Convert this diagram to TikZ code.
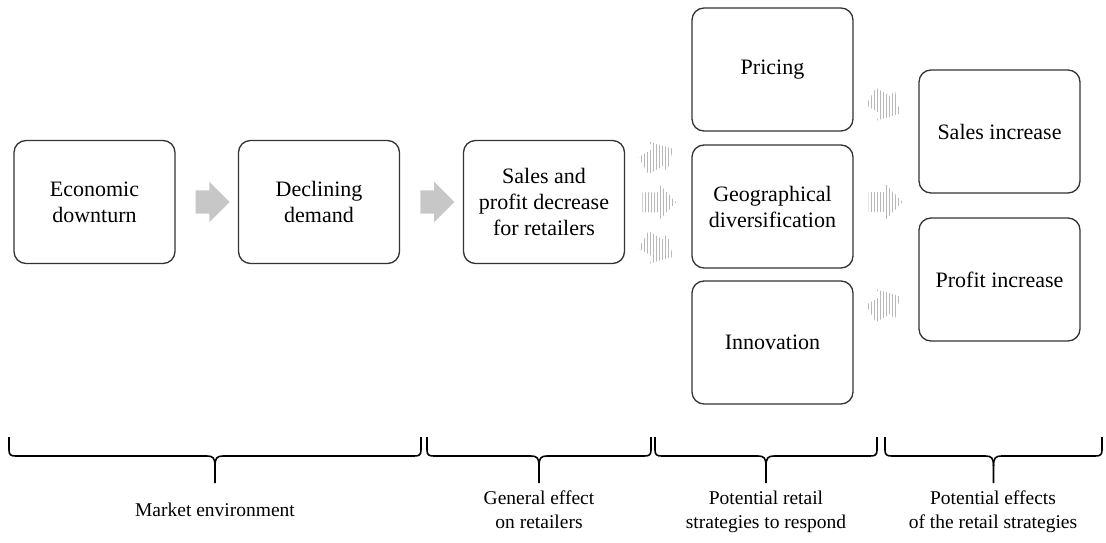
\documentclass[tikz,border=0pt]{standalone}
\usepackage{fontspec}
\setmainfont{Liberation Serif}
\usetikzlibrary{calc,shapes.arrows}
\newcommand\stripedarrow[3]{%
  \begin{scope}[shift={(#1)}]
    \clip[rotate=#2] (-17,-10) -- (0,-10) -- (0,-18) -- (17,0) -- (0,18) -- (0,10) -- (-17,10) -- cycle;
    \foreach \i in {-26,-23,...,26} \draw[#3] (\i,-30) -- (\i,30);
  \end{scope}}
\newcommand\curlybrace[2]{%
  \pgfmathsetmacro\xm{(#1+#2)/2}
  \draw[bracepen] (#1,437) -- (#1,450) .. controls (#1,455) and (#1+2,456) .. (#1+7,456) -- (\xm-8,456) .. controls (\xm-2,456) and (\xm,458) .. (\xm,466) -- (\xm,483);
  \draw[bracepen] (#2,437) -- (#2,450) .. controls (#2,455) and (#2-2,456) .. (#2-7,456) -- (\xm+8,456) .. controls (\xm+2,456) and (\xm,458) .. (\xm,466);}
\begin{document}
\begin{tikzpicture}[x=1pt,y=-1pt,
  box/.style={draw=black!80, line width=1.3pt, rounded corners=12pt,
    minimum width=161pt, minimum height=123pt, align=center, inner sep=0pt,
    font=\fontsize{22}{26}\selectfont},
  solidarrow/.style={single arrow, fill=black!22, draw=none, minimum height=34pt,
    inner xsep=0pt, inner ysep=11.5pt, single arrow head extend=8.5pt},
  stripe/.style={black!28, line width=1.4pt},
  bracepen/.style={line width=1.6pt, black},
  lab/.style={align=center, anchor=north, inner sep=0pt, font=\fontsize{19.5}{24}\selectfont}]
\useasboundingbox (0,0) rectangle (1106,543);
\node[box] (b1) at (94.5,202) {Economic\\downturn};
\node[box] (b2) at (319,202) {Declining\\demand};
\node[box] (b3) at (544,202) {Sales and\\profit decrease\\for retailers};
\node[box] (p) at (772.5,69.5) {Pricing};
\node[box] (g) at (772.5,206.5) {Geographical\\diversification};
\node[box] (i) at (772.5,342.5) {Innovation};
\node[box] (s) at (999.5,131.5) {Sales increase};
\node[box] (pr) at (999.5,279.5) {Profit increase};
\node[solidarrow] (a1) at ($(b1.east)!0.5!(b2.west)$) {};
\node[solidarrow] (a2) at ($(b2.east)!0.5!(b3.west)$) {};
\coordinate (m1) at ($(b3.east)!0.5!(g.west)$);
\coordinate (m2) at ($(g.east)+(32,-4.5)$);
\stripedarrow{$(m1)+(0,-47)$}{30}{stripe}
\stripedarrow{$(m1)+(1,-2)$}{0}{stripe}
\stripedarrow{$(m1)+(0,44)$}{-30}{stripe}
\stripedarrow{$(m2)+(0,-97)$}{-30}{stripe}
\stripedarrow{$(m2)+(0,0)$}{0}{stripe}
\stripedarrow{$(m2)+(0,103)$}{30}{stripe}
\curlybrace{9}{421}
\curlybrace{427}{651}
\curlybrace{655}{877}
\curlybrace{885}{1102}
\node[lab] (l1) at (215,503) {Market environment};
\node[lab] (l2) at (539,491) {General effect\\on retailers};
\node[lab] (l3) at (766,491) {Potential retail\\strategies to respond};
\node[lab] (l4) at (993,491) {Potential effects\\of the retail strategies};
\end{tikzpicture}
\end{document}
